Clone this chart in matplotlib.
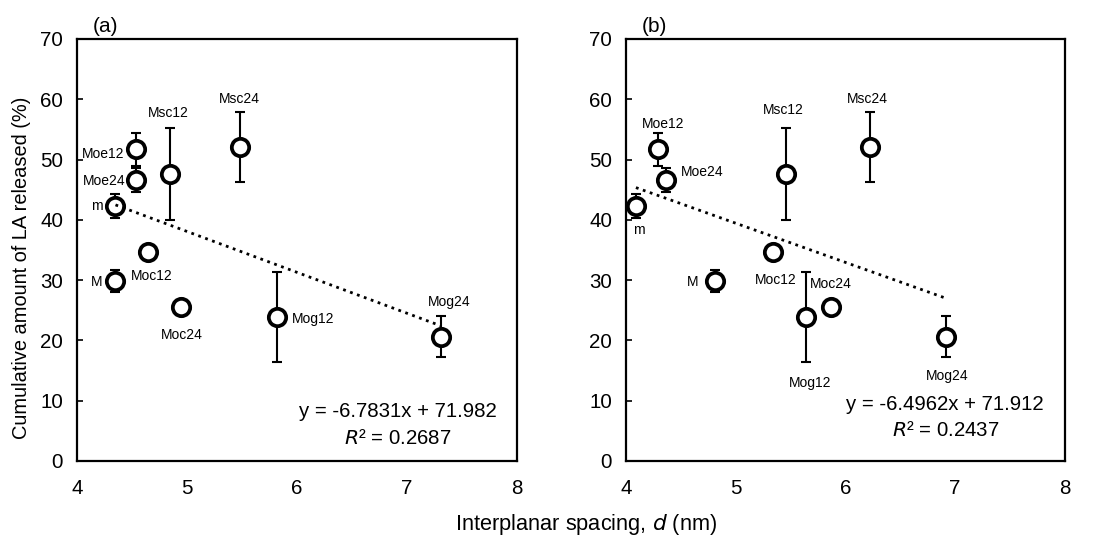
import numpy as np
import matplotlib.pyplot as plt

plt.rcParams['font.family'] = ['Liberation Sans', 'DejaVu Sans']

names = ['m', 'M', 'Moe12', 'Moe24', 'Moc12', 'Moc24', 'Msc12', 'Msc24', 'Mog12', 'Mog24']
released = [42.3, 29.8, 51.7, 46.6, 34.6, 25.5, 47.6, 52.0, 23.9, 20.6]
err = [2.0, 1.8, 2.7, 2.0, 0.0, 0.0, 7.6, 5.8, 7.5, 3.4]

d_a = [4.35, 4.35, 4.54, 4.54, 4.65, 4.95, 4.85, 5.48, 5.82, 7.31]
d_b = [4.09, 4.81, 4.29, 4.36, 5.34, 5.87, 5.46, 6.22, 5.64, 6.92]

fit_a = (-6.7831, 71.982, 0.2687)
fit_b = (-6.4962, 71.912, 0.2437)

# label positions (x, y) for each point
lab_a = [(4.18, 42.3), (4.18, 29.7), (4.24, 50.9), (4.25, 46.5), (4.68, 30.7),
         (4.95, 20.9), (4.83, 57.7), (5.48, 60.0), (6.15, 23.5), (7.38, 26.4)]
lab_b = [(4.12, 38.3), (4.61, 29.7), (4.34, 55.9), (4.69, 47.9), (5.36, 30.0),
         (5.87, 29.4), (5.43, 58.2), (6.20, 60.0), (5.68, 12.9), (6.93, 14.1)]

fig = plt.figure(figsize=(11.11, 5.41), dpi=100)
ax_a = fig.add_axes([0.0693, 0.148, 0.396, 0.780])
ax_b = fig.add_axes([0.5635, 0.148, 0.395, 0.780])


def draw_panel(ax, d, labels, fit, tag, eq_pos):
    slope, icpt, r2 = fit
    ax.errorbar(d, released, yerr=err, fmt='none', ecolor='black', elinewidth=1.5,
                capsize=3.5, capthick=1.5, zorder=2)
    ax.plot(d, released, 'o', ms=12.5, mfc='white', mec='black', mew=2.7, zorder=3)
    xs = np.array([min(d), max(d)])
    ax.plot(xs, slope * xs + icpt, ':', color='black', lw=2, zorder=4)
    for name, (lx, ly) in zip(names, labels):
        ax.text(lx, ly, name, fontsize=10, ha='center', va='center')
    ax.text(eq_pos[0], eq_pos[1], f'y = {slope}x + {icpt}', fontsize=14.7,
            ha='center', va='center')
    ax.text(eq_pos[0], eq_pos[2], f'$R$² = {r2}', fontsize=14.7, ha='center', va='center')
    ax.set_xlim(4, 8)
    ax.set_ylim(0, 70)
    ax.set_xticks([4, 5, 6, 7, 8])
    ax.set_yticks(range(0, 71, 10))
    ax.tick_params(axis='y', direction='in', length=4, width=1.2, labelsize=14.8, pad=10)
    ax.tick_params(axis='x', length=0, labelsize=14.8, pad=13)
    for s in ax.spines.values():
        s.set_linewidth(1.6)
    ax.text(0.036, 1.008, tag, transform=ax.transAxes, fontsize=15, ha='left', va='bottom')


draw_panel(ax_a, d_a, lab_a, fit_a, '(a)', (6.92, 8.2, 3.8))
draw_panel(ax_b, d_b, lab_b, fit_b, '(b)', (6.91, 9.3, 5.0))

ax_a.set_ylabel('Cumulative amount of LA released (%)', fontsize=14.4)
ax_a.yaxis.set_label_coords(-0.105, 0.457)
fig.text(0.528, 0.0296, 'Interplanar spacing, $\\it{d}$ (nm)', fontsize=15.7,
         ha='center', va='center')

fig.savefig('out.png', dpi=100)
